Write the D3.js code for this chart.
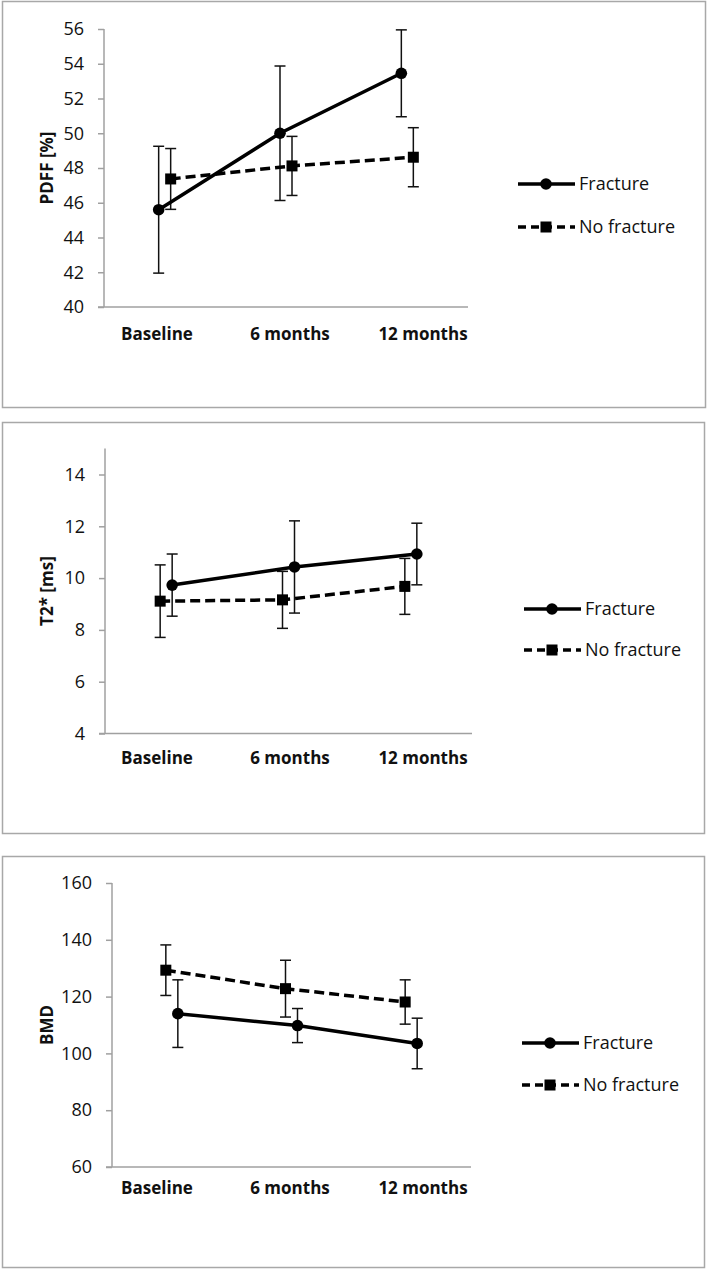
<!DOCTYPE html>
<html>
<head>
<meta charset="utf-8">
<script src="https://cdn.jsdelivr.net/npm/d3@7"></script>
<style>
  html, body { margin: 0; padding: 0; background: #fff; }
  svg { display: block; }
  text { font-family: "Open Sans", "DejaVu Sans", sans-serif; fill: #111; }
</style>
</head>
<body>
<svg id="chart" width="708" height="1269"></svg>
<script>
// ---- data ----
const categories = ["Baseline", "6 months", "12 months"];
const seriesNames = ["Fracture", "No fracture"];

const pdffFracture      = [45.6, 50.0, 53.45];
const pdffFractureErr   = [3.65, 3.87, 2.5];
const pdffNoFracture    = [47.37, 48.12, 48.62];
const pdffNoFractureErr = [1.75, 1.7, 1.7];

const t2Fracture        = [9.73, 10.43, 10.93];
const t2FractureErr     = [1.2, 1.78, 1.19];
const t2NoFracture      = [9.11, 9.16, 9.68];
const t2NoFractureErr   = [1.4, 1.1, 1.08];

const bmdFracture       = [114.0, 109.8, 103.5];
const bmdFractureErr    = [11.9, 6.0, 8.9];
const bmdNoFracture     = [129.3, 122.8, 118.1];
const bmdNoFractureErr  = [8.9, 10.0, 7.8];

const pdffTicks = [40, 42, 44, 46, 48, 50, 52, 54, 56];
const t2Ticks   = [4, 6, 8, 10, 12, 14];
const bmdTicks  = [60, 80, 100, 120, 140, 160];

// ---- layout ----
const panels = [
  { title: "PDFF [%]", domain: [40, 56], ticks: pdffTicks,
    fr: pdffFracture, frErr: pdffFractureErr, nf: pdffNoFracture, nfErr: pdffNoFractureErr,
    box: [2, 1, 703, 406], xr: [104, 468], yr: [307, 29], frOff: -6, nfOff: 6,
    labelY: 340, legendX: 518, legendY: [184, 227] },
  { title: "T2* [ms]", domain: [4, 15], ticks: t2Ticks,
    fr: t2Fracture, frErr: t2FractureErr, nf: t2NoFracture, nfErr: t2NoFractureErr,
    box: [2, 422, 702, 411], xr: [105, 472], yr: [733.5, 448.6], frOff: 6, nfOff: -6,
    labelY: 764, legendX: 524, legendY: [609, 650] },
  { title: "BMD", domain: [60, 160], ticks: bmdTicks,
    fr: bmdFracture, frErr: bmdFractureErr, nf: bmdNoFracture, nfErr: bmdNoFractureErr,
    box: [2, 856, 702, 411], xr: [112, 471], yr: [1167, 883], frOff: 6, nfOff: -6,
    labelY: 1194, legendX: 522, legendY: [1043, 1085] }
];

const svg = d3.select("#chart");
const axisGray = "#a0a0a0";

function marker(g, type, cx, cy) {
  if (type === "circle") {
    g.append("circle").attr("cx", cx).attr("cy", cy).attr("r", 5.8).attr("fill", "#000");
  } else {
    g.append("rect").attr("x", cx - 5.5).attr("y", cy - 5.5).attr("width", 11).attr("height", 11).attr("fill", "#000");
  }
}

panels.forEach(p => {
  const g = svg.append("g");
  // frame
  g.append("rect").attr("x", p.box[0] + 0.5).attr("y", p.box[1] + 0.5)
    .attr("width", p.box[2]).attr("height", p.box[3])
    .attr("fill", "none").attr("stroke", "#a8a8a8").attr("stroke-width", 1.5);

  const x = d3.scaleBand().domain(categories).range(p.xr).paddingInner(0).paddingOuter(0);
  const y = d3.scaleLinear().domain(p.domain).range(p.yr);
  const labelX = d3.scalePoint().domain(categories).range([157, 423]);

  // y axis
  const yAxis = d3.axisLeft(y).tickValues(p.ticks).tickSize(6).tickPadding(14).tickFormat(d3.format("d"));
  const ya = g.append("g").attr("transform", `translate(${p.xr[0]},0)`).call(yAxis);
  ya.select(".domain").attr("stroke", axisGray).attr("stroke-width", 1.5)
    .attr("d", `M0,${p.yr[0]}V${p.yr[1]}`);
  ya.selectAll(".tick line").attr("stroke", axisGray).attr("stroke-width", 1.5);
  ya.selectAll(".tick text").attr("font-size", 18).attr("fill", "#111")
    .style("font-family", "'Open Sans', sans-serif");

  // x axis line
  g.append("line").attr("x1", p.xr[0] - 6).attr("x2", p.xr[1])
    .attr("y1", p.yr[0]).attr("y2", p.yr[0])
    .attr("stroke", axisGray).attr("stroke-width", 1.5);

  // category labels
  g.selectAll(".cat").data(categories).enter().append("text")
    .attr("x", d => labelX(d)).attr("y", p.labelY)
    .attr("text-anchor", "middle").attr("font-size", 17).attr("font-weight", "bold")
    .text(d => d);

  // y title
  const cy = (p.yr[0] + p.yr[1]) / 2;
  g.append("text").attr("transform", `translate(53,${cy}) rotate(-90)`)
    .attr("text-anchor", "middle").attr("font-size", 17).attr("font-weight", "bold")
    .text(p.title);

  const series = [
    { vals: p.fr, err: p.frErr, off: p.frOff, dash: null, m: "circle" },
    { vals: p.nf, err: p.nfErr, off: p.nfOff, dash: "10,5", m: "square" }
  ];

  series.forEach(s => {
    const px = (i) => x(categories[i]) + x.bandwidth() / 2 + s.off;
    // error bars
    s.vals.forEach((v, i) => {
      const cx = px(i);
      const top = y(v + s.err[i]), bot = y(v - s.err[i]);
      g.append("line").attr("x1", cx).attr("x2", cx).attr("y1", top).attr("y2", bot)
        .attr("stroke", "#111").attr("stroke-width", 1.5);
      [top, bot].forEach(yy => g.append("line").attr("x1", cx - 5.5).attr("x2", cx + 5.5)
        .attr("y1", yy).attr("y2", yy).attr("stroke", "#111").attr("stroke-width", 1.5));
    });
  });
  series.forEach(s => {
    const px = (i) => x(categories[i]) + x.bandwidth() / 2 + s.off;
    const line = d3.line().x((d, i) => px(i)).y(d => y(d));
    g.append("path").datum(s.vals).attr("d", line)
      .attr("fill", "none").attr("stroke", "#000").attr("stroke-width", 3.5)
      .attr("stroke-dasharray", s.dash);
    s.vals.forEach((v, i) => marker(g, s.m, px(i), y(v)));
  });

  // legend
  const lg = g.append("g");
  seriesNames.forEach((name, k) => {
    const ly = p.legendY[k];
    lg.append("line").attr("x1", p.legendX).attr("x2", p.legendX + 57)
      .attr("y1", ly).attr("y2", ly).attr("stroke", "#000").attr("stroke-width", 3.5)
      .attr("stroke-dasharray", k === 0 ? null : "8,5");
    marker(lg, k === 0 ? "circle" : "square", p.legendX + 28, ly);
    lg.append("text").attr("x", p.legendX + 61).attr("y", ly).attr("dy", "0.35em")
      .attr("font-size", 18).text(name);
  });
});
</script>
</body>
</html>
